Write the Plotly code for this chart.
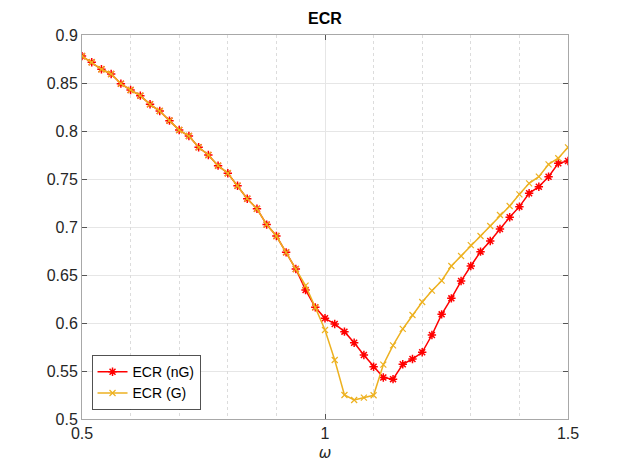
import plotly.graph_objects as go

omega = [round(0.5 + 0.02 * i, 2) for i in range(51)]

ecr_ng = [0.878, 0.8716, 0.8643, 0.8594, 0.8493, 0.8427, 0.8368, 0.8278, 0.8208, 0.8108,
          0.801, 0.7948, 0.783, 0.775, 0.7639, 0.756, 0.743, 0.7295, 0.719, 0.7025,
          0.6906, 0.6736, 0.6562, 0.6344, 0.6163, 0.6049, 0.599, 0.591, 0.5795, 0.5667,
          0.5545, 0.5432, 0.5415, 0.557, 0.5625, 0.5695, 0.5875, 0.609, 0.6257, 0.6437,
          0.6594, 0.6743, 0.6854, 0.6979, 0.7101, 0.7212, 0.7351, 0.742, 0.7524, 0.7663,
          0.7688]

ecr_g = [0.878, 0.8716, 0.8643, 0.8594, 0.8493, 0.8427, 0.8368, 0.8278, 0.8208, 0.8108,
         0.801, 0.7948, 0.783, 0.775, 0.7639, 0.756, 0.743, 0.7295, 0.719, 0.7025,
         0.6906, 0.6736, 0.6562, 0.6389, 0.6163, 0.5927, 0.5615, 0.525, 0.5198, 0.5222,
         0.5247, 0.5566, 0.5767, 0.5938, 0.6083, 0.6219, 0.6337, 0.6441, 0.6594, 0.6698,
         0.6812, 0.6906, 0.701, 0.7125, 0.7219, 0.734, 0.7455, 0.7524, 0.7653, 0.7716,
         0.783]

x_ticks = [0.5, 1, 1.5]
x_tick_labels = ["0.5", "1", "1.5"]
x_minor_ticks = [0.6, 0.7, 0.8, 0.9, 1.1, 1.2, 1.3, 1.4]
y_ticks = [0.5, 0.55, 0.6, 0.65, 0.7, 0.75, 0.8, 0.85, 0.9]
y_tick_labels = ["0.5", "0.55", "0.6", "0.65", "0.7", "0.75", "0.8", "0.85", "0.9"]

fig = go.Figure()
# invisible helper trace so the overlay axis (dotted minor grid) is drawn
fig.add_trace(go.Scatter(
    x=[omega[0], omega[-1]], y=[ecr_ng[0], ecr_ng[-1]], xaxis="x2", mode="none",
    showlegend=False, hoverinfo="skip",
))
fig.add_trace(go.Scatter(
    x=omega, y=ecr_ng, mode="lines+markers", name="ECR (nG)",
    line=dict(color="#FF0000", width=1.5),
    marker=dict(symbol="asterisk-open", size=7, color="#FF0000",
                line=dict(color="#FF0000", width=1.5)),
))
fig.add_trace(go.Scatter(
    x=omega, y=ecr_g, mode="lines+markers", name="ECR (G)",
    line=dict(color="#EDB120", width=1.5),
    marker=dict(symbol="x-thin-open", size=6, color="#EDB120",
                line=dict(color="#EDB120", width=1.2)),
))

axis_common = dict(
    showline=True, linecolor="#A8A8A8", linewidth=1, mirror="ticks",
    ticks="inside", ticklen=5, tickcolor="#555555",
    gridcolor="#E6E6E6", gridwidth=1, zeroline=False,
    tickfont=dict(family="Liberation Sans, Arial", size=16, color="#262626"),
)

fig.update_layout(
    xaxis=dict(
        range=[0.5, 1.5], tickmode="array", tickvals=x_ticks, ticktext=x_tick_labels,
        title=dict(text="<i>ω</i>", font=dict(family="DejaVu Sans, Liberation Sans", size=15, color="#262626"),
                   standoff=6),
        **axis_common,
    ),
    xaxis2=dict(
        range=[0.5, 1.5], overlaying="x", side="bottom", tickmode="array",
        tickvals=x_minor_ticks, showticklabels=False, ticks="", showline=False,
        showgrid=True, gridcolor="#DCDCDC", griddash="dot", gridwidth=1, zeroline=False,
    ),
    yaxis=dict(
        range=[0.5, 0.9], tickmode="array", tickvals=y_ticks, ticktext=y_tick_labels,
        **axis_common,
    ),
)

W, H = 620, 463
fig.update_layout(
    width=W, height=H,
    margin=dict(l=74, r=60, t=27, b=52),
    paper_bgcolor="white", plot_bgcolor="white",
    title=dict(text="<b>ECR</b>", x=317 / W, xanchor="center", y=1 - 10 / H, yanchor="middle",
               font=dict(family="Liberation Sans, Arial", size=16, color="black")),
    legend=dict(x=0.02, y=0.025, xanchor="left", yanchor="bottom",
                bgcolor="white", bordercolor="#262626", borderwidth=0.8,
                font=dict(family="Liberation Sans, Arial", size=14, color="black"),
                tracegroupgap=0, itemwidth=30),
    showlegend=True,
)

fig.write_html("out.html")
